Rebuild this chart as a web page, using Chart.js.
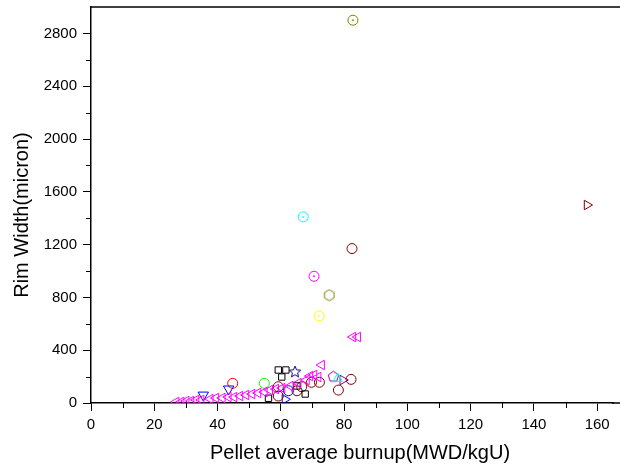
<!DOCTYPE html>
<html><head><meta charset="utf-8">
<script src="https://cdn.jsdelivr.net/npm/chart.js@4.4.0/dist/chart.umd.min.js"></script>
<style>html,body{margin:0;padding:0;background:#fff}#wrap{width:620px;height:472px}</style>
</head><body><div id="wrap"><canvas id="c" width="620" height="472"></canvas></div>
<script>
// ---- texts & tick labels ----
const xTitle = 'Pellet average burnup(MWD/kgU)';
const yTitle = 'Rim Width(micron)';
const xTicks = [0, 20, 40, 60, 80, 100, 120, 140, 160];
const xMinor = [10, 30, 50, 70, 90, 110, 130, 150];
const yTicks = [0, 400, 800, 1200, 1600, 2000, 2400, 2800];
const yMinor = [200, 600, 1000, 1400, 1800, 2200, 2600];

// ---- series (burnup MWD/kgU, rim width micron) ----
const oliveDotX = [82.8];              const oliveDotY = [2900];
const cyanDotX = [67.1];               const cyanDotY = [1410];
const magentaDotX = [70.5];            const magentaDotY = [960];
const yellowDotX = [72.1];             const yellowDotY = [660];
const wineCircleX = [82.5, 59.2, 59.2, 65.1, 66.6, 69.7, 72.2, 78.2, 82.2];
const wineCircleY = [1170, 123, 53, 93, 123, 157, 157, 98, 179];
const wineRightTriX = [156.8];         const wineRightTriY = [1500];
const oliveHexX = [75.3];              const oliveHexY = [817];
const magentaLeftX = [26.9, 28.5, 30.1, 31.6, 33.2, 34.8, 37.7, 39.5, 41.5, 43.4, 45.2, 47.1, 49.0, 50.9, 52.8, 54.8, 56.5, 58.4, 60.4, 63.0, 65.5, 68.1, 69.2, 70.5, 71.8, 72.9, 82.8, 84.3];
const magentaLeftY = [8, 8, 15, 15, 23, 23, 30, 38, 38, 45, 45, 53, 61, 68, 76, 83, 98, 106, 113, 129, 151, 174, 204, 212, 197, 288, 500, 500];
const blackSquareX = [59.2, 61.6, 60.3, 65.1, 67.7, 56.1];
const blackSquareY = [250, 250, 197, 129, 68, 36];
const navyStarX = [64.5];              const navyStarY = [234];
const blueCircleX = [62.4];            const blueCircleY = [93];
const blueRightTriX = [61.3];          const blueRightTriY = [28];
const blueDownTriX = [35.5, 43.5];     const blueDownTriY = [60, 106];
const redCircleX = [44.8];             const redCircleY = [149];
const greenCircleX = [54.8];           const greenCircleY = [149];
const purplePentX = [76.6];            const purplePentY = [199];
const purpleRightTriX = [79.6];        const purpleRightTriY = [174];
const cyanTriX = [78.0];               const cyanTriY = [185];

const zip = (xs, ys) => xs.map((x, i) => ({x: x, y: ys[i]}));

function polyCanvas(n, color, r, star, rot) {
  const s = Math.ceil(2 * r + 4);
  const c = document.createElement('canvas');
  c.width = s; c.height = s;
  const g = c.getContext('2d');
  g.strokeStyle = color; g.lineWidth = 1;
  g.beginPath();
  const cx = s / 2, cy = s / 2;
  const pts = star ? n * 2 : n;
  for (let i = 0; i < pts; i++) {
    const a = rot + i * 2 * Math.PI / pts;
    const rr = star ? (i % 2 === 0 ? r : r * 0.45) : r;
    const px = cx + rr * Math.cos(a), py = cy + rr * Math.sin(a);
    if (i === 0) g.moveTo(px, py); else g.lineTo(px, py);
  }
  g.closePath(); g.stroke();
  return c;
}

const OLIVE = '#808000', WINE = '#800000', MAG = '#ff00ff', CYAN = '#00ffff',
      YEL = '#ffff00', NAVY = '#000080', BLUE = '#0000ff', RED = '#ff0000',
      GREEN = '#00ff00', PURPLE = '#800080';

function ds(data, color, style, r, rot) {
  return {data: data, pointStyle: style, pointRadius: r, pointHoverRadius: r,
    pointRotation: rot || 0, borderColor: color, backgroundColor: 'rgba(0,0,0,0)',
    pointBorderWidth: 1, showLine: false};
}
function dot(data, color) {
  return {data: data, pointStyle: 'circle', pointRadius: 0.7, pointHoverRadius: 0.7,
    borderColor: color, backgroundColor: color, pointBorderWidth: 0.5, showLine: false};
}

const datasets = [
  ds(zip(magentaLeftX, magentaLeftY), MAG, 'triangle', 5.5, -90),
  ds(zip(blackSquareX, blackSquareY), '#000', 'rect', 4.5),
  ds(zip(cyanTriX, cyanTriY), CYAN, 'triangle', 5.5, 0),
  ds(zip(purplePentX, purplePentY), PURPLE, polyCanvas(5, PURPLE, 5.5, false, -Math.PI / 2), 5.5),
  ds(zip(purpleRightTriX, purpleRightTriY), PURPLE, 'triangle', 5.5, 90),
  ds(zip(wineCircleX, wineCircleY), WINE, 'circle', 5),
  ds(zip(wineRightTriX, wineRightTriY), WINE, 'triangle', 5.5, 90),
  ds(zip(oliveHexX, oliveHexY), OLIVE, polyCanvas(6, OLIVE, 5.5, false, Math.PI / 2), 5.5),
  ds(zip(navyStarX, navyStarY), NAVY, polyCanvas(5, NAVY, 6, true, -Math.PI / 2), 6),
  ds(zip(blueCircleX, blueCircleY), BLUE, 'circle', 5),
  ds(zip(blueRightTriX, blueRightTriY), BLUE, 'triangle', 5.5, 90),
  ds(zip(blueDownTriX, blueDownTriY), BLUE, 'triangle', 6, 180),
  ds(zip(redCircleX, redCircleY), RED, 'circle', 5),
  ds(zip(greenCircleX, greenCircleY), GREEN, 'circle', 5),
  ds(zip(oliveDotX, oliveDotY), OLIVE, 'circle', 5),
  dot(zip(oliveDotX, oliveDotY), OLIVE),
  ds(zip(cyanDotX, cyanDotY), CYAN, 'circle', 5),
  dot(zip(cyanDotX, cyanDotY), CYAN),
  ds(zip(magentaDotX, magentaDotY), MAG, 'circle', 5),
  dot(zip(magentaDotX, magentaDotY), MAG),
  ds(zip(yellowDotX, yellowDotY), YEL, 'circle', 5),
  dot(zip(yellowDotX, yellowDotY), YEL)
];

const FONT = "'Liberation Sans', Arial, sans-serif";

const extras = {
  id: 'extras',
  afterDraw(chart) {
    const g = chart.ctx, a = chart.chartArea, sx = chart.scales.x, sy = chart.scales.y;
    g.save();
    g.strokeStyle = '#000'; g.lineWidth = 1.5;
    g.beginPath();
    g.moveTo(a.left - 0.75, a.top); g.lineTo(chart.width, a.top);
    g.moveTo(a.right - 1, a.bottom); g.lineTo(chart.width, a.bottom);
    g.stroke();
    g.lineWidth = 1;
    g.beginPath();
    xMinor.forEach(v => { const p = Math.round(sx.getPixelForValue(v)) + 0.5; g.moveTo(p, a.bottom); g.lineTo(p, a.bottom + 5); });
    yMinor.forEach(v => { const p = Math.round(sy.getPixelForValue(v)) + 0.5; g.moveTo(a.left, p); g.lineTo(a.left - 5, p); });
    g.stroke();
    // axis titles
    g.fillStyle = '#000';
    g.font = '20px ' + FONT;
    g.textAlign = 'center'; g.textBaseline = 'middle';
    g.fillText(xTitle, 360, a.bottom + 50);
    g.translate(22, a.top + 208);
    g.rotate(-Math.PI / 2);
    g.fillText(yTitle, 0, 0);
    g.restore();
  }
};

const zeroPad = s => { s.paddingTop = 0; s.paddingBottom = 0; s.paddingLeft = 0; s.paddingRight = 0; };

new Chart(document.getElementById('c'), {
  type: 'scatter',
  data: {datasets: datasets},
  plugins: [extras],
  options: {
    responsive: false, animation: false, devicePixelRatio: 1,
    layout: {padding: {top: 7, right: 2, left: 0, bottom: 0}},
    plugins: {legend: {display: false}, tooltip: {enabled: false}},
    scales: {
      x: {
        type: 'linear', min: 0, max: 165, position: 'bottom',
        afterBuildTicks: s => { s.ticks = xTicks.map(v => ({value: v})); },
        afterFit: s => { s.height = 69; zeroPad(s); },
        ticks: {color: '#000', font: {family: FONT, size: 15}, padding: 5, maxRotation: 0,
          callback: (v) => String(v)},
        grid: {drawOnChartArea: false, tickLength: 8, tickColor: '#000', tickWidth: 1},
        border: {display: true, color: '#000', width: 1.5},
        title: {display: false}
      },
      y: {
        type: 'linear', min: 0, max: 3000, position: 'left',
        afterBuildTicks: s => { s.ticks = yTicks.map(v => ({value: v})); },
        afterFit: s => { s.width = 91; zeroPad(s); },
        ticks: {color: '#000', font: {family: FONT, size: 15}, padding: 6,
          callback: (v) => String(v)},
        grid: {drawOnChartArea: false, tickLength: 8, tickColor: '#000', tickWidth: 1},
        border: {display: true, color: '#000', width: 1.5},
        title: {display: false}
      }
    }
  }
});
</script>
</body></html>
